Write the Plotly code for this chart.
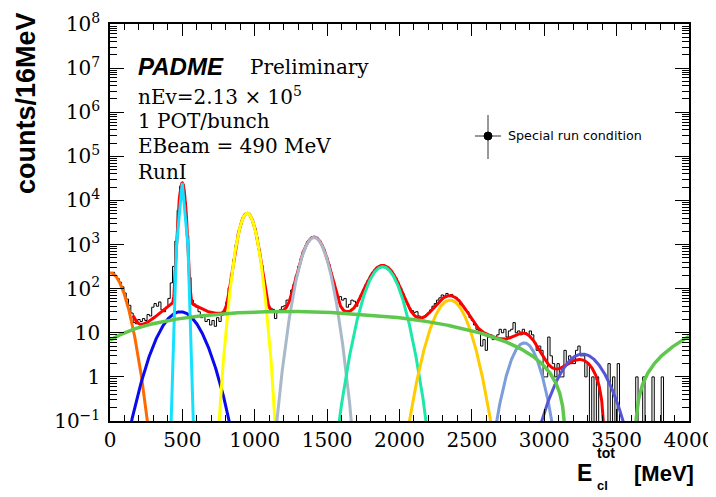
import numpy as np
import plotly.graph_objects as go

# ---------------- data ----------------
BIN_WIDTH = 16  # MeV
X_RANGE = [0, 4000]

counts = [
    220, 235, 200, 170, 140, 110, 80, 58, 42, 28,
    17, 16, 20, 18, 21, 19, 26, 24, 38, 46,
    40, 50, 33, 30, 38, 60, 135, 320, 1200, 6000,
    21000, 23000, 9000, 1600, 180, 55, 45, 38, 30, 22,
    26, 18, 20, 15, 19, 14, 22, 18, 25, 28,
    50, 105, 210, 460, 1000, 1800, 2900, 4100, 4900, 5200,
    4600, 3600, 2400, 1450, 760, 340, 150, 70, 42, 36,
    34, 21, 30, 33, 39, 41, 55, 52, 93, 125,
    200, 320, 480, 690, 930, 1160, 1350, 1470, 1480, 1390,
    1210, 990, 750, 530, 355, 225, 140, 87, 62, 66,
    55, 60, 38, 44, 55, 52, 40, 56, 72, 94,
    121, 155, 194, 234, 273, 306, 328, 338, 335, 317,
    289, 252, 212, 172, 135, 103, 78, 59, 45, 36,
    32, 29, 30, 24, 21, 22, 25, 28, 33, 40,
    46, 55, 62, 72, 68, 78, 70, 74, 66, 63,
    56, 43, 40, 33, 30, 22, 19, 15, 12, 11,
    5, 7, 4, 8, 9, 7, 8, 9, 12, 10,
    12, 8, 11, 12, 17, 10, 11, 9, 12, 10,
    9, 11, 9, 6, 4, 5, 4, 1, 1, 8,
    3, 2, 1, 2, 1, 1, 4, 2, 3, 2,
    2, 4, 5, 3, 3, 1, 2, 0, 1, 0,
    1, 0, 0, 0, 0, 2, 0, 1, 0, 2,
    0, 0, 0, 0, 0, 0, 0, 1, 0, 0,
    1, 0, 0, 0, 1, 0, 0, 0, 1, 0,
    0, 0, 0, 0, 0, 0, 0, 0, 0, 0,
]

# Gaussian fit components (amplitude, mean [MeV], sigma [MeV])
comp_amp = [230, 30, 25000, 5100, 1455, 314, 55, 5.9, 3.3]
comp_mean = [0, 487, 499, 948, 1410, 1884, 2349, 2862, 3264]
comp_sigma = [66, 100, 15.5, 42, 59, 75, 79, 67, 106.7]
comp_lo = [0, 100, 299, 650, 1050, 1430, 1870, 2460, 2620]
comp_hi = [400, 900, 699, 1250, 1770, 2340, 2830, 3260, 3910]
comp_step = [2, 2, 40, 2, 2, 2, 2, 2, 2]

# broad background curve: points (negative = below plot)
bkg_x = [0, 160, 390, 620, 850, 1080, 1300, 1540, 1860, 2000, 2210, 2560,
         2830, 3020, 3140, 3250, 3385, 3520, 3630, 3710, 3820, 3980]
bkg_y = [6.8, 11.5, 19.4, 25, 27.5, 29, 30, 29, 24, 21.3, 17, 10.5,
         5.2, 1.43, 0.1, -0.9, -1.15, -0.8, 0.1, 1.0, 3.4, 8.4]

TOTAL_RANGE = [160, 3500]

ytick_vals = [1e-1, 1, 1e1, 1e2, 1e3, 1e4, 1e5, 1e6, 1e7, 1e8]
ytick_text = ["10<sup>\u22121</sup>", "1", "10", "10<sup>2</sup>", "10<sup>3</sup>",
              "10<sup>4</sup>", "10<sup>5</sup>", "10<sup>6</sup>", "10<sup>7</sup>",
              "10<sup>8</sup>"]

# ---------------- styles ----------------
comp_color = ["#ff6a00", "#0a0aee", "#14e0ff", "#ffff00", "#a9b9c9",
              "#1ee8a8", "#ffcc00", "#7b9ddc", "#5555d8"]
RED = "#ff0000"
GREEN = "#5fc84c"

# page offset of the figure inside the browser window (default body margin)
OFF = 8
# plot-area frame in window pixels (for annotation placement)
L, R, T, B = 110, 689, 24, 421
FIG_W, FIG_H = 716 - OFF, 497 - OFF


def px(x):
    return (x - L) / (R - L)


def py(y):
    return (B - y) / (B - T)


def gauss(x, a, m, s):
    return a * np.exp(-0.5 * ((x - m) / s) ** 2)


bkg_poly = np.polynomial.Polynomial.fit(
    np.array(bkg_x, float), np.array(bkg_y, float), deg=6,
    w=1.0 / np.maximum(np.abs(np.array(bkg_y, float)), 1.0))


def positive(v):
    v = np.asarray(v, float)
    return np.where(v > 0, v, np.nan)


fig = go.Figure()

# histogram (step outline); empty bins drop below the axis like ROOT
edges = np.arange(len(counts) + 1) * BIN_WIDTH
disp = [c if c > 0 else 1e-4 for c in counts]
fig.add_trace(go.Scatter(x=edges, y=disp + [disp[-1]], mode="lines",
                         line=dict(shape="hv", color="black", width=1),
                         hoverinfo="skip"))

# total fit
xt = np.arange(TOTAL_RANGE[0], TOTAL_RANGE[1] + 0.1, 2.0)
yt = bkg_poly(xt)
for a, m, s in zip(comp_amp, comp_mean, comp_sigma):
    yt = yt + gauss(xt, a, m, s)
fig.add_trace(go.Scatter(x=xt, y=positive(yt), mode="lines",
                         line=dict(color=RED, width=3), hoverinfo="skip"))

# components
for a, m, s, lo, hi, st, c in zip(comp_amp, comp_mean, comp_sigma, comp_lo,
                                  comp_hi, comp_step, comp_color):
    xc = np.arange(lo, hi + 0.1, st)
    fig.add_trace(go.Scatter(x=xc, y=gauss(xc, a, m, s), mode="lines",
                             line=dict(color=c, width=3), hoverinfo="skip"))

# background
xg = np.arange(X_RANGE[0], X_RANGE[1] + 0.1, 2.0)
fig.add_trace(go.Scatter(x=xg, y=positive(bkg_poly(xg)), mode="lines",
                         line=dict(color=GREEN, width=3.5), hoverinfo="skip"))

serif = "DejaVu Serif"
fig.update_layout(
    width=FIG_W, height=FIG_H,
    margin=dict(l=L - OFF, r=FIG_W - (R - OFF), t=T - OFF, b=FIG_H - (B - OFF)),
    plot_bgcolor="white", paper_bgcolor="white", showlegend=False,
)
fig.update_xaxes(
    range=X_RANGE, showline=True, linecolor="black", linewidth=1.5,
    mirror="ticks", ticks="inside", ticklen=12, tickwidth=1, tickcolor="black",
    tick0=0, dtick=500, automargin=False,
    minor=dict(dtick=100, ticks="inside", ticklen=6, tickwidth=1,
               tickcolor="black", showgrid=False),
    showgrid=False, zeroline=False,
    tickfont=dict(family=serif, size=20, color="black"),
)
fig.update_yaxes(
    type="log", range=[-1, 8], showline=True, linecolor="black", linewidth=1.5,
    mirror="ticks", ticks="inside", ticklen=14, tickwidth=1, tickcolor="black",
    tickmode="array", tickvals=ytick_vals, ticktext=ytick_text, automargin=False,
    minor=dict(dtick="D1", ticks="inside", ticklen=7, tickwidth=1,
               tickcolor="black", showgrid=False),
    showgrid=False, zeroline=False, ticklabelstandoff=4,
    tickfont=dict(family=serif, size=20, color="black"),
)

ann = []


def text(x, y, s, size, family, xanchor="left", yanchor="middle", angle=0):
    ann.append(dict(x=px(x), y=py(y), xref="paper", yref="paper", text=s,
                    showarrow=False, xanchor=xanchor, yanchor=yanchor,
                    textangle=angle, borderpad=0,
                    font=dict(family=family, size=size, color="black")))


text(137, 67, "<b><i>PADME</i></b>", 24, "Liberation Sans")
text(249, 67, "Preliminary", 20, serif)
text(137, 96, "nEv=2.13 \u00d7 10<sup>5</sup>", 20, serif)
text(137, 121, "1 POT/bunch", 20, serif)
text(137, 146, "EBeam = 490 MeV", 20, serif)
text(137, 172, "RunI", 20, serif)
text(507, 136, "Special run condition", 12.7, "DejaVu Sans")
text(26, 103, "<b>counts/16MeV</b>", 27, "Liberation Sans", xanchor="center",
     angle=-90)
text(593, 473, "<b>E</b>", 23, "Liberation Sans", xanchor="right")
text(596, 453, "<b>tot</b>", 14, "Liberation Sans")
text(596, 485, "<b>cl</b>", 13, "Liberation Sans")
text(633, 473, "<b>[MeV]</b>", 22, "Liberation Sans")
fig.update_layout(annotations=ann)

# legend glyph: marker with error cross
shapes = [
    dict(type="line", xref="paper", yref="paper", x0=px(475), x1=px(501),
         y0=py(136), y1=py(136), line=dict(color="#333333", width=1)),
    dict(type="line", xref="paper", yref="paper", x0=px(488), x1=px(488),
         y0=py(115), y1=py(159), line=dict(color="#333333", width=1)),
    dict(type="circle", xref="paper", yref="paper", xsizemode="pixel",
         ysizemode="pixel", xanchor=px(488), yanchor=py(136), x0=-4, x1=4,
         y0=-4, y1=4, fillcolor="black", line=dict(color="black", width=1)),
]
fig.update_layout(shapes=shapes)

fig.write_html("out.html")
